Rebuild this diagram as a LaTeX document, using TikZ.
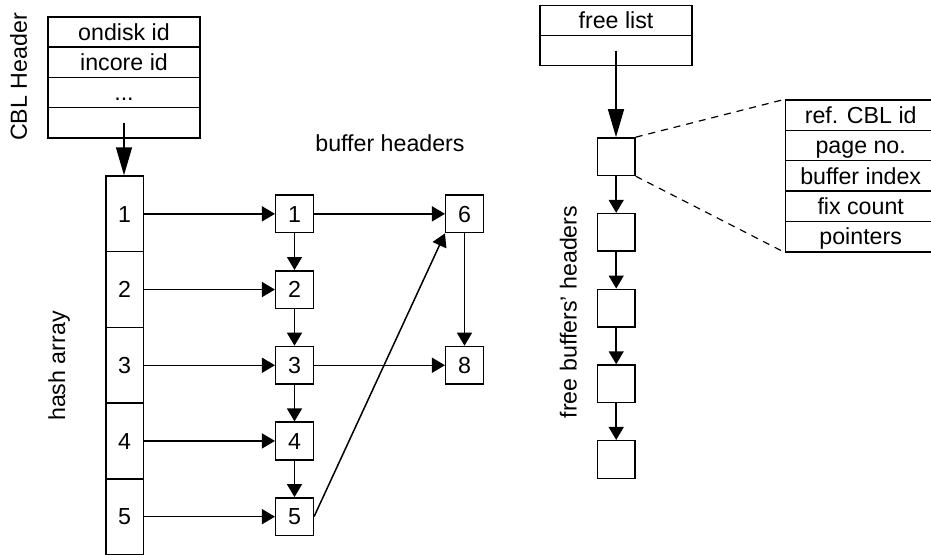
\documentclass[tikz,border=0pt]{standalone}
\usepackage{fontspec}
\setmainfont{Liberation Sans}
\usetikzlibrary{arrows.meta}

\tikzset{
  txt/.style={font=\fontsize{23.2}{28}\selectfont, inner sep=0pt},
  boxtxt/.style={txt, text height=16.4pt, text depth=0pt},
  cell/.style={boxtxt, draw, line width=1.5pt, minimum width=#1, minimum height=30.2pt, anchor=center},
  hcell/.style={boxtxt, draw, line width=1.5pt, minimum width=37.5pt, minimum height=75.7pt},
  bufbox/.style={boxtxt, draw, line width=1.5pt, minimum width=37.6pt, minimum height=37.6pt},
  link/.style={line width=1.5pt, -{Triangle[length=13pt, width=15pt]}},
  biglink/.style={line width=1.5pt, -{Triangle[length=28pt, width=16pt]}},
  zoomline/.style={line width=1.2pt, dash pattern=on 7pt off 6pt},
  rotlabel/.style={txt, rotate=90, anchor=base}
}

\begin{document}
\begin{tikzpicture}[x=1pt, y=-1pt]
\useasboundingbox (0,0) rectangle (931,554);

% CBL header table
\node[cell=152pt] (c1) at (124,32.1) {ondisk id};
\node[cell=152pt] (c2) at (124,62.3) {incore id};
\node[cell=152pt] (c3) at (124,92.5) {...};
\node[cell=152pt] (c4) at (124,122.7) {};
\node[rotlabel] (cbllab) at (27,77) {CBL Header};

% hash array
\node[hcell] (h1) at (124.5,213.85) {1};
\node[hcell] (h2) at (124.5,289.55) {2};
\node[hcell] (h3) at (124.5,365.25) {3};
\node[hcell] (h4) at (124.5,440.95) {4};
\node[hcell] (h5) at (124.5,516.65) {5};
\node[rotlabel] (hashlab) at (65,366) {hash array};

\draw[biglink] (c4.center) -- (c4.center |- h1.north);

% buffer headers
\node[txt, anchor=base] (buflab) at (390,151.7) {buffer headers};
\node[bufbox] (b1) at (294.5,213.85) {1};
\node[bufbox] (b2) at (294.5,289.55) {2};
\node[bufbox] (b3) at (294.5,365.25) {3};
\node[bufbox] (b4) at (294.5,440.95) {4};
\node[bufbox] (b5) at (294.5,516.65) {5};
\node[bufbox] (b6) at (464.5,213.85) {6};
\node[bufbox] (b8) at (464.5,365.25) {8};

\foreach \i in {1,...,5} {
  \draw[link] (h\i.east) -- (b\i.west);
}
\draw[link] (b1) -- (b2);
\draw[link] (b2) -- (b3);
\draw[link] (b3) -- (b4);
\draw[link] (b4) -- (b5);
\draw[link] (b1) -- (b6);
\draw[link] (b3) -- (b8);
\draw[link] (b6) -- (b8);
\draw[link] (b5.east) -- (b6.south west);

% free list
\node[cell=152pt, minimum height=30pt] (fl1) at (616,20.7) {free list};
\node[cell=152pt, minimum height=30pt] (fl2) at (616,50.7) {};

\node[bufbox] (f1) at (616.2,156.7) {};
\node[bufbox] (f2) at (616.2,232.4) {};
\node[bufbox] (f3) at (616.2,308.1) {};
\node[bufbox] (f4) at (616.2,383.8) {};
\node[bufbox] (f5) at (616.2,459.5) {};
\node[rotlabel] (freelab) at (576.7,312) {free buffers' headers};

\draw[biglink] (fl2.center) -- (fl2.center |- f1.north);
\draw[link] (f1) -- (f2);
\draw[link] (f2) -- (f3);
\draw[link] (f3) -- (f4);
\draw[link] (f4) -- (f5);

% fields of one buffer header
\node[cell=150pt, minimum height=30.35pt] (d1) at (860.7,115.2) {ref. CBL id};
\node[cell=150pt, minimum height=30.35pt] (d2) at (860.7,145.5) {page no.};
\node[cell=150pt, minimum height=30.35pt] (d3) at (860.7,175.9) {buffer index};
\node[cell=150pt, minimum height=30.35pt] (d4) at (860.7,206.2) {fix count};
\node[cell=150pt, minimum height=30.35pt] (d5) at (860.7,236.6) {pointers};

\draw[zoomline] (f1.north east) -- (d1.north west);
\draw[zoomline] (f1.south east) -- (d5.south west);
\end{tikzpicture}
\end{document}
